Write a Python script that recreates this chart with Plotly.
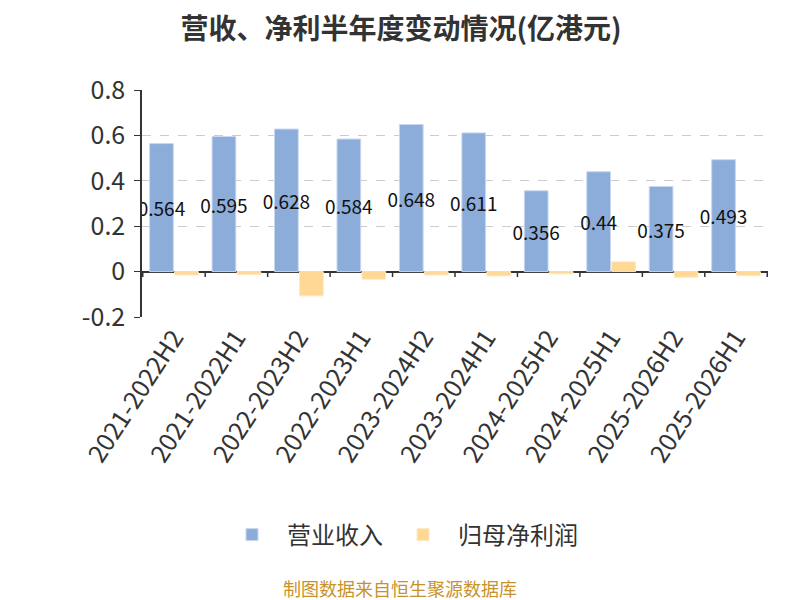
import plotly.graph_objects as go

categories = ["2021-2022H2", "2021-2022H1", "2022-2023H2", "2022-2023H1", "2023-2024H2",
              "2023-2024H1", "2024-2025H2", "2024-2025H1", "2025-2026H2", "2025-2026H1"]
revenue = [0.564, 0.595, 0.628, 0.584, 0.648, 0.611, 0.356, 0.44, 0.375, 0.493]
net_profit = [-0.015, -0.013, -0.107, -0.034, -0.015, -0.019, -0.010, 0.043, -0.025, -0.018]
y_ticks = [-0.2, 0, 0.2, 0.4, 0.6, 0.8]
y_tick_text = ["-0.2", "0", "0.2", "0.4", "0.6", "0.8"]

FONT = "Noto Sans CJK SC, Noto Sans, sans-serif"

OFF = 8  # page body margin
W, H = 800 - OFF, 600 - OFF
PLOT_L, PLOT_R, PLOT_T, PLOT_B = 142 - OFF, 768 - OFF, 90 - OFF, 317 - OFF
PW, PH = PLOT_R - PLOT_L, PLOT_B - PLOT_T

fig = go.Figure()
fig.add_trace(go.Bar(
    x=categories, y=revenue, name="营业收入",
    marker=dict(color="#8cacda", line=dict(width=1, color="#c9d8ef")),
    text=[f"{v:g}" for v in revenue], textposition="inside",
    insidetextanchor="middle", constraintext="none",
    textfont=dict(size=19, color="#111111", family=FONT),
    textangle=0,
))
fig.add_trace(go.Bar(
    x=categories, y=net_profit, name="归母净利润",
    marker=dict(color="#ffd895", line=dict(width=1, color="#ffe9c2")),
))

shapes = []
for i in range(len(categories) + 1):
    shapes.append(dict(type="line", xref="x", yref="y", x0=i - 0.5, x1=i - 0.5,
                       y0=0, y1=-0.024, line=dict(color="#333333", width=1.5)))

fig.update_layout(
    width=W, height=H,
    paper_bgcolor="white", plot_bgcolor="white",
    margin=dict(l=PLOT_L, r=W - PLOT_R, t=PLOT_T, b=H - PLOT_B, autoexpand=False),
    barmode="group", bargap=0.2, bargroupgap=0.05,
    font=dict(family=FONT, color="#333333"),
    title=dict(text="<b>营收、净利半年度变动情况(亿港元)</b>", x=(401 - OFF) / W, xanchor="center",
               y=1 - (29 - OFF) / H, yanchor="middle", font=dict(size=28, color="#333333", family=FONT)),
    showlegend=True,
    legend=dict(orientation="h", x=(400 - 142) / PW, xanchor="center",
                y=1 - (535 - OFF) / H, yanchor="middle",
                yref="container", font=dict(size=24, color="#333333", family=FONT),
                itemwidth=60, traceorder="normal"),
    shapes=shapes,
    annotations=[dict(text="制图数据来自恒生聚源数据库", xref="paper", yref="paper",
                      x=(400 - 142) / PW, xanchor="center",
                      y=(317 - 588) / PH, yanchor="middle",
                      showarrow=False, font=dict(size=18, color="#c8922a", family=FONT))],
)
fig.update_xaxes(
    tickangle=-57, tickfont=dict(size=25, color="#333333", family=FONT),
    showline=False, showgrid=False, ticks="", automargin=False,
)
fig.update_yaxes(
    range=[-0.2, 0.8], tickvals=y_ticks, ticktext=y_tick_text,
    tickfont=dict(size=25, color="#333333", family=FONT),
    showline=True, linecolor="#333333", linewidth=1.5,
    ticks="outside", ticklen=6, tickcolor="#333333", ticklabelstandoff=4,
    showgrid=True, gridcolor="#cccccc", griddash="dash", gridwidth=1,
    zeroline=True, zerolinecolor="#333333", zerolinewidth=1.5, automargin=False,
)
fig.write_html("out.html")
